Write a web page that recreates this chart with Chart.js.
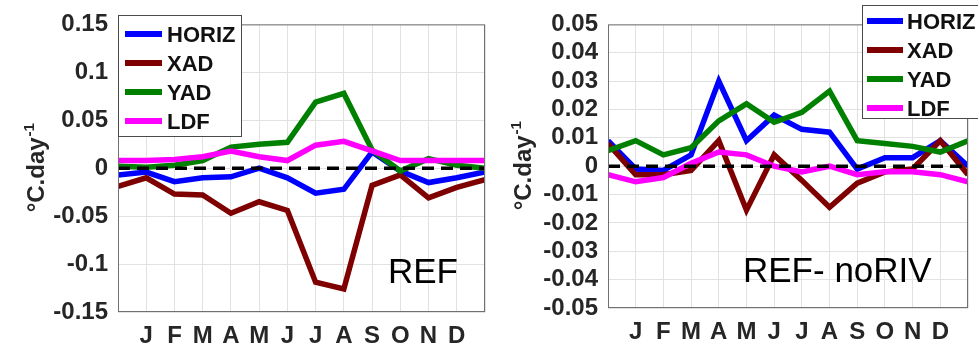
<!DOCTYPE html>
<html>
<head>
<meta charset="utf-8">
<script src="https://cdn.jsdelivr.net/npm/chart.js@4.4.0/dist/chart.umd.min.js"></script>
<style>
  html, body { margin: 0; padding: 0; background: #fff; }
  #wrap { position: relative; width: 978px; height: 350px; overflow: hidden; }
  canvas { position: absolute; top: 0; }
</style>
</head>
<body>
<div id="wrap">
  <canvas id="ref" width="495" height="350" style="left:0"></canvas>
  <canvas id="diff" width="488" height="350" style="left:490px"></canvas>
</div>

<script>

/* month letters on the x axis, positions 1..12 (0 = prev Dec, 13 = next Jan) */
const months = ['J', 'F', 'M', 'A', 'M', 'J', 'J', 'A', 'S', 'O', 'N', 'D'];
const xPos = [0, 1, 2, 3, 4, 5, 6, 7, 8, 9, 10, 11, 12, 13];
const seriesNames = ['HORIZ', 'XAD', 'YAD', 'LDF'];

/* REF panel */
const ref_horiz = [-0.007, -0.004, -0.014, -0.010, -0.009, 0.000, -0.010, -0.026, -0.022, 0.017, -0.003, -0.015, -0.010, -0.004];
const ref_xad   = [-0.019, -0.010, -0.027, -0.028, -0.047, -0.035, -0.044, -0.119, -0.126, -0.018, -0.007, -0.031, -0.020, -0.012];
const ref_yad   = [0.002, 0.001, 0.003, 0.008, 0.022, 0.025, 0.027, 0.069, 0.078, 0.019, -0.003, 0.010, 0.003, 0.000];
const ref_ldf   = [0.008, 0.008, 0.009, 0.012, 0.018, 0.012, 0.008, 0.024, 0.028, 0.018, 0.008, 0.008, 0.008, 0.008];

/* REF- noRIV panel */
const diff_horiz = [0.009, -0.001, -0.0015, 0.004, 0.030, 0.009, 0.018, 0.013, 0.012, -0.001, 0.003, 0.003, 0.009, 0.000];
const diff_xad   = [0.008, -0.003, -0.003, -0.0015, 0.009, -0.0155, 0.004, -0.005, -0.0145, -0.006, -0.002, -0.001, 0.009, -0.003];
const diff_yad   = [0.0055, 0.009, 0.004, 0.0065, 0.016, 0.022, 0.0155, 0.019, 0.0265, 0.009, 0.008, 0.007, 0.005, 0.009];
const diff_ldf   = [-0.003, -0.0055, -0.004, 0.001, 0.005, 0.004, 0.000, -0.002, 0.000, -0.003, -0.002, -0.002, -0.003, -0.0055];

const zeroLine = [0, 0];
const zeroX = [0, 13];

const lineColors = ['#0000ff', '#7f0000', '#008000', '#ff00ff'];
const FONT = '"Liberation Sans", Arial, Helvetica, sans-serif';

function pts(arr) {
    return arr.map((v, i) => ({ x: xPos[i], y: v }));
}

/* box, legend, panel tag and y title with superscript */
const panelDecor = {
    id: 'panelDecor',
    afterDatasetsDraw(chart, args, opts) {
        const ctx = chart.ctx;
        const a = chart.chartArea;
        ctx.save();

        ctx.strokeStyle = '#707070';
        ctx.lineWidth = 1;
        ctx.strokeRect(a.left + 0.5, a.top + 0.5, a.right - a.left - 1, a.bottom - a.top - 1);

        // legend
        const L = opts.legend;
        ctx.fillStyle = '#fff';
        ctx.fillRect(L.x, L.y, L.w, L.h);
        ctx.strokeStyle = '#4a4a4a';
        ctx.strokeRect(L.x + 0.5, L.y + 0.5, L.w, L.h);
        ctx.font = 'bold 22px ' + FONT;
        ctx.textBaseline = 'middle';
        ctx.textAlign = 'left';
        chart.data.datasets.filter(d => !d.noLegend).forEach((d, i) => {
            const y = L.y + L.first + i * L.step;
            ctx.strokeStyle = d.borderColor;
            ctx.lineWidth = 6;
            ctx.beginPath();
            ctx.moveTo(L.x + L.lx0, y);
            ctx.lineTo(L.x + L.lx1, y);
            ctx.stroke();
            ctx.fillStyle = '#111';
            ctx.fillText(d.label, L.x + L.tx, y + 2);
        });

        // panel tag
        ctx.font = '35px ' + FONT;
        ctx.textBaseline = 'alphabetic';
        ctx.fillStyle = '#000';
        ctx.fillText(opts.tag, opts.tagX, opts.tagY);

        // y axis title
        ctx.translate(opts.titleX, (a.top + a.bottom) / 2);
        ctx.rotate(-Math.PI / 2);
        ctx.fillStyle = '#262626';
        ctx.font = 'bold 24px ' + FONT;
        const main = '\u00B0C.day';
        const w1 = ctx.measureText(main).width;
        ctx.font = 'bold 15px ' + FONT;
        const w2 = ctx.measureText('-1').width;
        const x0 = -(w1 + w2) / 2;
        ctx.font = 'bold 24px ' + FONT;
        ctx.fillText(main, x0, 0);
        ctx.font = 'bold 15px ' + FONT;
        ctx.fillText('-1', x0 + w1 + 1, -10);

        ctx.restore();
    }
};

function makeChart(id, data, yMin, yMax, yStep, axisH, padRight, decor) {
    const datasets = data.map((arr, i) => ({
        label: seriesNames[i],
        data: pts(arr),
        borderColor: lineColors[i],
        backgroundColor: lineColors[i],
        borderWidth: 5.5,
        order: 4 - i
    }));
    datasets.push({
        label: 'zero',
        noLegend: true,
        data: zeroX.map((x, i) => ({ x: x, y: zeroLine[i] })),
        borderColor: '#000',
        borderWidth: 3.5,
        borderDash: [12, 7],
        order: 0
    });

    return new Chart(document.getElementById(id).getContext('2d'), {
        type: 'line',
        data: { datasets: datasets },
        options: {
            responsive: false,
            animation: false,
            devicePixelRatio: 1,
            layout: { padding: { top: 15, right: padRight, bottom: 0, left: 0 } },
            elements: { point: { radius: 0 }, line: { tension: 0 } },
            plugins: {
                legend: { display: false },
                tooltip: { enabled: false },
                panelDecor: decor
            },
            scales: {
                x: {
                    type: 'linear',
                    min: 0,
                    max: 13,
                    afterFit: s => { s.height = axisH; },
                    ticks: {
                        stepSize: 1,
                        autoSkip: false,
                        maxRotation: 0,
                        padding: 10,
                        color: '#262626',
                        font: { family: FONT, size: 24, weight: 'bold' },
                        callback: v => months[v - 1] || ''
                    },
                    grid: { color: '#e2e2e2', drawTicks: false },
                    border: { display: false }
                },
                y: {
                    min: yMin,
                    max: yMax,
                    afterFit: s => { s.width = 118; },
                    ticks: {
                        stepSize: yStep,
                        autoSkip: false,
                        padding: 10,
                        color: '#262626',
                        font: { family: FONT, size: 24, weight: 'bold' },
                        callback: v => String(+v.toFixed(2))
                    },
                    grid: { color: '#e2e2e2', drawTicks: false },
                    border: { display: false }
                }
            }
        },
        plugins: [panelDecor]
    });
}

makeChart('ref', [ref_horiz, ref_xad, ref_yad, ref_ldf], -0.15, 0.15, 0.05, 38, 4, {
    legend: { x: 118, y: 15, w: 123, h: 121, first: 19, step: 29, lx0: 7, lx1: 44, tx: 49 },
    tag: 'REF', tagX: 388, tagY: 283, titleX: 44
});

makeChart('diff', [diff_horiz, diff_xad, diff_yad, diff_ldf], -0.05, 0.05, 0.01, 42, 3, {
    legend: { x: 372, y: 5, w: 130, h: 113, first: 16, step: 29, lx0: 5, lx1: 41, tx: 45 },
    tag: 'REF- noRIV', tagX: 253, tagY: 282, titleX: 41
});

</script>
</body>
</html>
